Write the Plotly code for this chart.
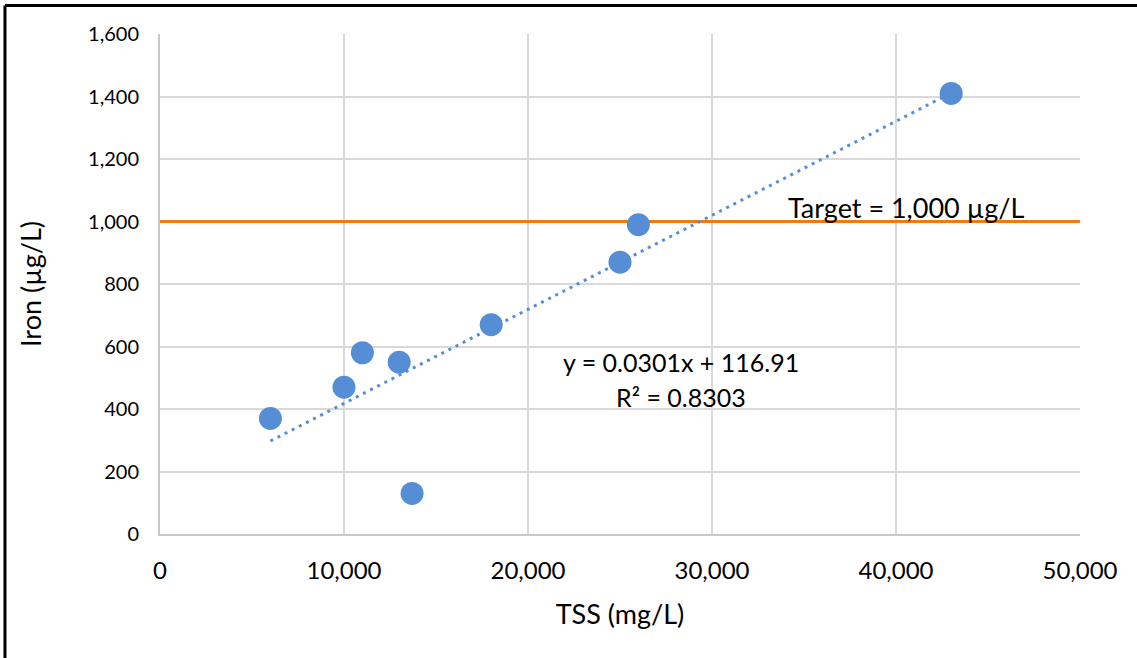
import plotly.graph_objects as go

# Data
tss = [6000, 10000, 11000, 13000, 13700, 18000, 25000, 26000, 43000]
iron = [370, 470, 580, 550, 130, 670, 870, 990, 1410]
slope = 0.0301
intercept = 116.91
r2 = 0.8303
target = 1000
x_ticks = [0, 10000, 20000, 30000, 40000, 50000]
y_ticks = [0, 200, 400, 600, 800, 1000, 1200, 1400, 1600]

FONT = "Lato"
BLUE = "#558ED5"
ORANGE = "#F47A0F"

trend_x = [min(tss), max(tss)]
trend_y = [slope * v + intercept for v in trend_x]

fig = go.Figure()
fig.add_trace(go.Scatter(x=[x_ticks[0], x_ticks[-1]], y=[target, target], mode="lines",
                         line=dict(color=ORANGE, width=3), hoverinfo="skip"))
fig.add_trace(go.Scatter(x=trend_x, y=trend_y, mode="lines",
                         line=dict(color=BLUE, width=3, dash="3px,5px"), hoverinfo="skip"))
fig.add_trace(go.Scatter(x=tss, y=iron, mode="markers",
                         marker=dict(color=BLUE, size=23, line=dict(width=0))))

fig.add_annotation(x=40543, y=target + 46, text=f"Target = {target:,} µg/L", showarrow=False,
                   font=dict(family=FONT, size=27, color="#000"), xanchor="center", yanchor="middle")
fig.add_annotation(x=28315, y=552, text=f"y = {slope}x + {intercept}", showarrow=False,
                   font=dict(family=FONT, size=25, color="#000"), xanchor="center", yanchor="middle")
fig.add_annotation(x=28315, y=437, text=f"R² = {r2}", showarrow=False,
                   font=dict(family=FONT, size=25, color="#000"), xanchor="center", yanchor="middle")

# outer border (top and left edges visible)
fig.add_shape(type="line", xref="paper", yref="paper", x0=-0.1685, x1=1.07, y0=1.057, y1=1.057,
              line=dict(color="#000", width=3))
fig.add_shape(type="line", xref="paper", yref="paper", x0=-0.1685, x1=-0.1685, y0=1.057, y1=-0.26,
              line=dict(color="#000", width=3))

fig.update_layout(
    width=1137, height=658,
    margin=dict(l=160, r=57, t=34, b=124),
    paper_bgcolor="white", plot_bgcolor="white",
    showlegend=False,
    font=dict(family=FONT, color="#000"),
)
fig.update_xaxes(range=[0, 50000], tickvals=x_ticks, ticktext=[f"{v:,}" for v in x_ticks],
                 showgrid=True, gridcolor="#D9D9D9", gridwidth=2,
                 showline=True, linecolor="#C8C8C8", linewidth=2, zeroline=False,
                 tickfont=dict(family=FONT, size=24), ticklabelstandoff=14,
                 title=dict(text="TSS (mg/L)", font=dict(family=FONT, size=27), standoff=22))
fig.update_yaxes(range=[0, 1600], tickvals=y_ticks, ticktext=[f"{v:,}" for v in y_ticks],
                 showgrid=True, gridcolor="#D9D9D9", gridwidth=2,
                 showline=True, linecolor="#C8C8C8", linewidth=2, zeroline=False,
                 tickfont=dict(family=FONT, size=20), ticklabelstandoff=15,
                 title=dict(text="Iron (µg/L)", font=dict(family=FONT, size=27), standoff=39))

fig.write_html("out.html", config={"displayModeBar": False},
               post_script="document.body.style.margin='0';document.body.style.overflow='hidden';")
